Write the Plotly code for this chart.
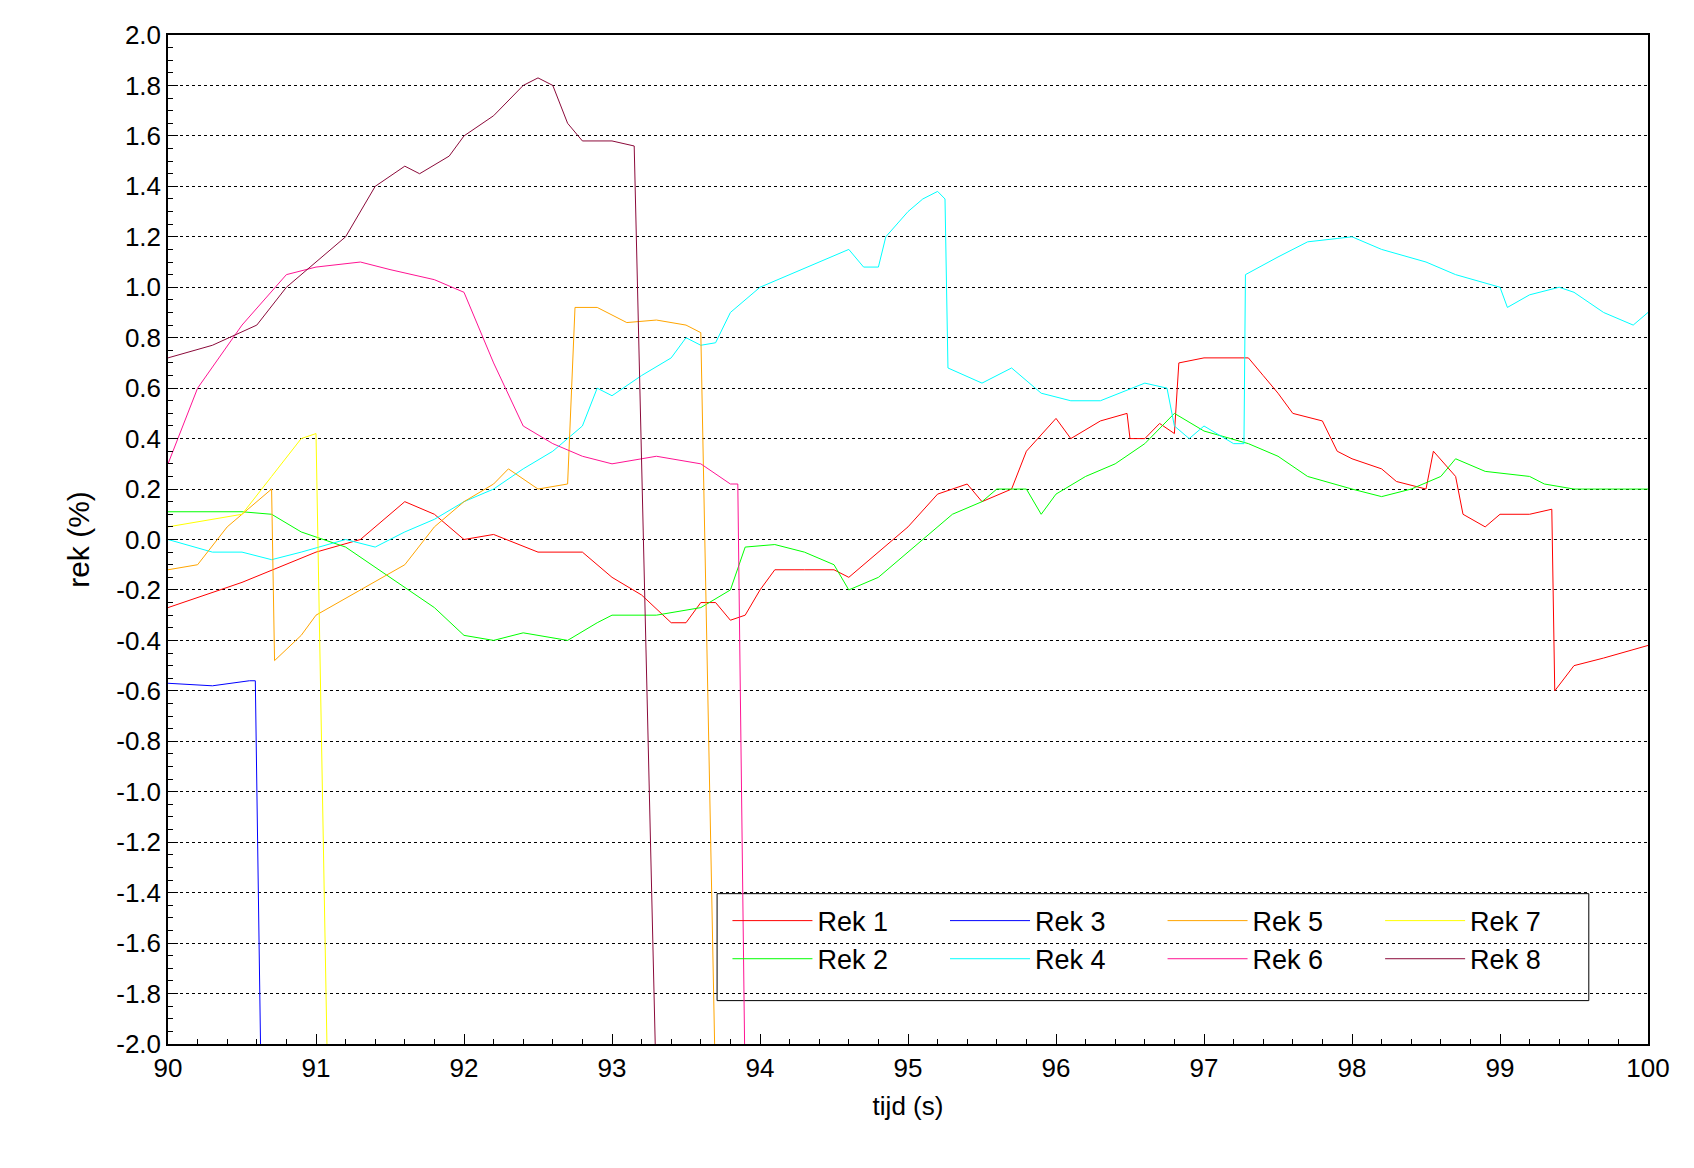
import plotly.graph_objects as go

r1_x=[90,90.5,91,91.3,91.6,91.8,92,92.2,92.5,92.8,93,93.2,93.4,93.5,93.6,93.7,93.8,93.9,94,94.1,94.3,94.5,94.6,94.8,95,95.2,95.4,95.5,95.7,95.8,96,96.1,96.3,96.48,96.5,96.6,96.7,96.8,96.83,97,97.3,97.4,97.5,97.6,97.8,97.9,98,98.2,98.3,98.5,98.55,98.7,98.75,98.9,99.0,99.2,99.35,99.37,99.5,99.7,100]
r1_y=[-0.27,-0.17,-0.05,0.0,0.15,0.1,0.0,0.02,-0.05,-0.05,-0.15,-0.22,-0.33,-0.33,-0.25,-0.25,-0.32,-0.3,-0.2,-0.12,-0.12,-0.12,-0.15,-0.05,0.05,0.18,0.22,0.15,0.2,0.35,0.48,0.4,0.47,0.5,0.4,0.4,0.46,0.42,0.7,0.72,0.72,0.65,0.58,0.5,0.47,0.35,0.32,0.28,0.23,0.2,0.35,0.25,0.1,0.05,0.1,0.1,0.12,-0.6,-0.5,-0.47,-0.42]
r2_x=[90,90.5,90.7,90.9,91.2,91.5,91.8,92,92.2,92.4,92.7,92.9,93,93.3,93.6,93.8,93.9,94.1,94.3,94.5,94.6,94.8,95,95.3,95.5,95.6,95.8,95.9,96,96.2,96.4,96.6,96.8,97,97.3,97.5,97.7,98,98.2,98.4,98.6,98.7,98.9,99.2,99.3,99.5,100]
r2_y=[0.11,0.11,0.1,0.03,-0.03,-0.15,-0.27,-0.38,-0.4,-0.37,-0.4,-0.33,-0.3,-0.3,-0.27,-0.2,-0.03,-0.02,-0.05,-0.1,-0.2,-0.15,-0.05,0.1,0.15,0.2,0.2,0.1,0.18,0.25,0.3,0.38,0.5,0.43,0.38,0.33,0.25,0.2,0.17,0.2,0.25,0.32,0.27,0.25,0.22,0.2,0.2]
r3_x=[90,90.3,90.55,90.59,90.63]
r3_y=[-0.57,-0.58,-0.56,-0.56,-2.2]
r4_x=[90,90.3,90.5,90.7,90.9,91.2,91.4,91.6,91.8,92,92.2,92.4,92.6,92.8,92.9,93.0,93.2,93.4,93.5,93.6,93.7,93.8,94,94.2,94.4,94.6,94.7,94.8,94.85,95,95.1,95.2,95.25,95.27,95.5,95.7,95.9,96.1,96.3,96.6,96.75,96.8,96.9,97.0,97.2,97.27,97.28,97.5,97.7,98,98.2,98.5,98.7,99,99.05,99.2,99.4,99.5,99.7,99.9,100]
r4_y=[0.0,-0.05,-0.05,-0.08,-0.05,0.0,-0.03,0.03,0.08,0.15,0.2,0.28,0.35,0.45,0.6,0.57,0.65,0.72,0.8,0.77,0.78,0.9,1.0,1.05,1.1,1.15,1.08,1.08,1.2,1.3,1.35,1.38,1.35,0.68,0.62,0.68,0.58,0.55,0.55,0.62,0.6,0.45,0.4,0.45,0.38,0.38,1.05,1.12,1.18,1.2,1.15,1.1,1.05,1.0,0.92,0.97,1.0,0.98,0.9,0.85,0.9]
r5_x=[90,90.2,90.4,90.6,90.7,90.72,90.9,91.0,91.3,91.6,91.8,92,92.2,92.3,92.5,92.7,92.75,92.9,93.1,93.3,93.5,93.6,93.7]
r5_y=[-0.12,-0.1,0.05,0.15,0.2,-0.48,-0.38,-0.3,-0.2,-0.1,0.05,0.15,0.22,0.28,0.2,0.22,0.92,0.92,0.86,0.87,0.85,0.82,-2.2]
r6_x=[90,90.2,90.5,90.8,91,91.3,91.5,91.8,92,92.2,92.4,92.6,92.8,93,93.3,93.6,93.8,93.85,93.9]
r6_y=[0.3,0.6,0.85,1.05,1.08,1.1,1.07,1.03,0.98,0.7,0.45,0.38,0.33,0.3,0.33,0.3,0.22,0.22,-2.2]
r7_x=[90,90.3,90.5,90.7,90.9,91.0,91.08]
r7_y=[0.05,0.08,0.1,0.25,0.4,0.42,-2.2]
r8_x=[90,90.3,90.6,90.8,91,91.2,91.4,91.6,91.7,91.9,92,92.2,92.4,92.5,92.6,92.7,92.8,93.0,93.15,93.3]
r8_y=[0.72,0.77,0.85,1.0,1.1,1.2,1.4,1.48,1.45,1.52,1.6,1.68,1.8,1.83,1.8,1.65,1.58,1.58,1.56,-2.2]
y_ticks=[round(-2+0.2*i,1) for i in range(21)]
y_labels=[f"{v:.1f}" for v in y_ticks]

series=[("Rek 1",r1_x,r1_y,"#ff0000","legend"),("Rek 2",r2_x,r2_y,"#00ff00","legend"),
        ("Rek 3",r3_x,r3_y,"#0000ff","legend2"),("Rek 4",r4_x,r4_y,"#00ffff","legend2"),
        ("Rek 5",r5_x,r5_y,"#ffa500","legend3"),("Rek 6",r6_x,r6_y,"#ff1493","legend3"),
        ("Rek 7",r7_x,r7_y,"#ffff00","legend4"),("Rek 8",r8_x,r8_y,"#8b0a3a","legend4")]
fig=go.Figure()
for n,x,y,c,lg in series:
    fig.add_trace(go.Scatter(x=x,y=y,name=n,mode="lines",line=dict(color=c,width=1),legend=lg))
F="Liberation Sans"
ax=dict(showline=True,linecolor="black",linewidth=1.5,mirror=True,ticks="inside",ticklen=10,tickcolor="black",
        tickfont=dict(size=26,color="black",family=F),zeroline=False)
fig.update_xaxes(**ax,range=[90,100],dtick=1,showgrid=False,title=dict(text="tijd (s)",font=dict(size=26,family=F),standoff=15),
                 minor=dict(ticks="inside",ticklen=5,dtick=0.2,tickcolor="black"))
fig.update_yaxes(**ax,range=[-2,2],tickvals=y_ticks,ticktext=y_labels,showgrid=True,gridcolor="black",griddash="dot",gridwidth=1,
                 title=dict(text="rek (%)",font=dict(size=30,family=F),standoff=18),
                 minor=dict(ticks="inside",ticklen=5,dtick=0.05,tickcolor="black"))
leg=dict(orientation="v",y=0.103,xanchor="left",yanchor="middle",bgcolor="rgba(0,0,0,0)",
         font=dict(size=27,family=F),itemwidth=80,tracegroupgap=0)
fig.update_layout(width=1694,height=1168,plot_bgcolor="white",paper_bgcolor="white",
                  margin=dict(l=160,r=54,t=20,b=132),font=dict(family=F,color="black"),
                  legend=dict(leg,x=0.378), legend2=dict(leg,x=0.525), legend3=dict(leg,x=0.672), legend4=dict(leg,x=0.819),
                  shapes=[dict(type="rect",xref="paper",yref="paper",x0=0.371,x1=0.96,y0=0.043,y1=0.149,
                               line=dict(color="black",width=1),fillcolor="white",layer="below")])
fig.write_html("out.html")
